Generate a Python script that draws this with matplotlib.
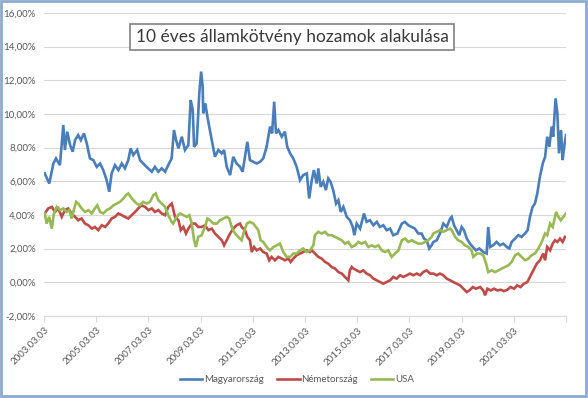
import matplotlib
matplotlib.use("Agg")
import matplotlib.pyplot as plt
from matplotlib.patches import Rectangle

plt.rcParams['font.family'] = ['Lato', 'DejaVu Sans']

# --- data (decimal year, yield in %) ---
hu_dates = [2003.20, 2003.37, 2003.53, 2003.63, 2003.78, 2003.91, 2003.97, 2004.06, 2004.17, 2004.27,
            2004.36, 2004.48, 2004.58, 2004.70, 2004.81, 2004.93, 2005.06, 2005.19, 2005.32, 2005.44,
            2005.57, 2005.67, 2005.76, 2005.89, 2006.02, 2006.15, 2006.27, 2006.40, 2006.49, 2006.59,
            2006.74, 2006.85, 2006.97, 2007.10, 2007.30, 2007.42, 2007.55, 2007.68, 2007.81, 2007.93,
            2008.06, 2008.15, 2008.23, 2008.32, 2008.45, 2008.57, 2008.70, 2008.79, 2008.87, 2008.92,
            2009.02, 2009.12, 2009.19, 2009.25, 2009.27, 2009.35, 2009.43, 2009.50, 2009.60, 2009.72,
            2009.85, 2009.98, 2010.07, 2010.17, 2010.30, 2010.42, 2010.55, 2010.68, 2010.78, 2010.87,
            2010.96, 2011.06, 2011.19, 2011.32, 2011.45, 2011.57, 2011.70, 2011.83, 2011.91, 2011.99,
            2012.06, 2012.15, 2012.28, 2012.40, 2012.49, 2012.60, 2012.72, 2012.85, 2012.98, 2013.10,
            2013.24, 2013.33, 2013.43, 2013.51, 2013.62, 2013.68, 2013.77, 2013.87, 2013.97, 2014.06,
            2014.15, 2014.25, 2014.36, 2014.45, 2014.54, 2014.64, 2014.77, 2014.89, 2015.00, 2015.06,
            2015.15, 2015.28, 2015.43, 2015.53, 2015.66, 2015.79, 2015.92, 2016.04, 2016.17, 2016.30,
            2016.43, 2016.55, 2016.71, 2016.88, 2017.00, 2017.13, 2017.26, 2017.38, 2017.51, 2017.64,
            2017.73, 2017.83, 2017.93, 2018.02, 2018.09, 2018.22, 2018.34, 2018.47, 2018.60, 2018.73,
            2018.79, 2018.88, 2018.98, 2019.08, 2019.17, 2019.26, 2019.37, 2019.49, 2019.60, 2019.72,
            2019.85, 2020.00, 2020.13, 2020.19, 2020.26, 2020.38, 2020.51, 2020.64, 2020.77, 2020.90,
            2021.00, 2021.09, 2021.22, 2021.34, 2021.47, 2021.60, 2021.70, 2021.79, 2021.89, 2021.98,
            2022.07, 2022.17, 2022.28, 2022.37, 2022.45, 2022.53, 2022.62, 2022.68, 2022.77, 2022.84,
            2022.90, 2022.98, 2023.04, 2023.10, 2023.17]
hu_yield = [6.47, 5.87, 7.06, 7.36, 6.96, 9.35, 7.86, 8.95, 8.15, 7.76,
            8.45, 8.75, 8.45, 8.85, 8.25, 7.36, 7.26, 6.86, 7.06, 6.67,
            6.07, 5.38, 6.47, 6.96, 6.67, 7.06, 6.77, 7.26, 7.96, 7.56,
            7.86, 7.26, 7.06, 6.86, 6.57, 6.86, 6.57, 6.77, 6.57, 6.96,
            7.36, 9.05, 8.45, 7.96, 8.65, 7.86, 8.15, 10.83, 10.24, 8.05,
            8.25, 11.23, 12.52, 11.63, 10.04, 10.63, 9.84, 9.25, 8.45, 7.46,
            7.86, 7.66, 7.86, 6.86, 6.37, 7.46, 7.06, 6.86, 6.57, 7.46,
            8.35, 7.26, 7.16, 7.06, 7.16, 7.36, 8.05, 9.25, 8.85, 10.73,
            8.85, 9.05, 8.65, 8.95, 8.05, 7.66, 7.36, 6.86, 6.07, 6.37,
            6.47, 4.98, 6.07, 6.67, 5.87, 6.77, 5.67, 5.97, 5.48, 6.17,
            5.97, 5.48, 4.68, 4.88, 4.18, 4.48, 3.89, 3.69, 3.29, 2.80,
            3.49, 3.19, 4.09, 3.59, 3.69, 3.39, 3.59, 3.29, 3.39, 3.10,
            3.19, 2.80, 2.90, 3.49, 3.59, 3.39, 3.29, 3.19, 2.90, 2.90,
            2.60, 2.50, 2.01, 2.20, 2.40, 2.50, 2.90, 3.49, 3.29, 3.79,
            3.89, 3.39, 3.10, 2.80, 3.29, 3.10, 2.60, 2.30, 2.10, 1.90,
            2.01, 1.80, 1.71, 3.29, 2.10, 2.20, 2.40, 2.20, 2.30, 2.10,
            2.01, 2.40, 2.60, 2.80, 2.70, 2.90, 3.10, 3.89, 4.48, 4.68,
            5.28, 6.27, 7.06, 7.46, 8.65, 8.05, 9.25, 8.65, 10.93, 10.04,
            7.66, 9.05, 7.26, 8.05, 8.75]

de_dates = [2003.20, 2003.33, 2003.47, 2003.59, 2003.72, 2003.85, 2003.97, 2004.10, 2004.23, 2004.36,
            2004.48, 2004.61, 2004.74, 2004.87, 2005.00, 2005.12, 2005.25, 2005.38, 2005.51, 2005.63,
            2005.76, 2005.89, 2006.02, 2006.15, 2006.27, 2006.40, 2006.53, 2006.66, 2006.78, 2006.91,
            2007.04, 2007.17, 2007.30, 2007.42, 2007.55, 2007.68, 2007.81, 2007.93, 2008.06, 2008.10,
            2008.19, 2008.32, 2008.41, 2008.51, 2008.61, 2008.70, 2008.83, 2008.96, 2009.08, 2009.21,
            2009.34, 2009.47, 2009.60, 2009.72, 2009.85, 2009.98, 2010.07, 2010.17, 2010.30, 2010.42,
            2010.55, 2010.68, 2010.74, 2010.87, 2010.96, 2011.06, 2011.13, 2011.22, 2011.32, 2011.45,
            2011.57, 2011.70, 2011.80, 2011.89, 2012.02, 2012.15, 2012.28, 2012.40, 2012.53, 2012.62,
            2012.72, 2012.85, 2012.98, 2013.10, 2013.24, 2013.36, 2013.43, 2013.55, 2013.68, 2013.81,
            2013.94, 2014.06, 2014.19, 2014.32, 2014.45, 2014.58, 2014.70, 2014.83, 2014.89, 2014.96,
            2015.02, 2015.15, 2015.28, 2015.40, 2015.53, 2015.66, 2015.79, 2015.92, 2016.04, 2016.17,
            2016.30, 2016.43, 2016.55, 2016.68, 2016.81, 2016.94, 2017.07, 2017.19, 2017.32, 2017.45,
            2017.58, 2017.70, 2017.83, 2017.96, 2018.09, 2018.22, 2018.34, 2018.47, 2018.60, 2018.73,
            2018.85, 2018.98, 2019.11, 2019.24, 2019.37, 2019.47, 2019.60, 2019.72, 2019.88, 2020.00,
            2020.07, 2020.16, 2020.29, 2020.41, 2020.54, 2020.67, 2020.79, 2020.92, 2021.05, 2021.18,
            2021.30, 2021.43, 2021.56, 2021.69, 2021.79, 2021.92, 2022.05, 2022.17, 2022.30, 2022.37,
            2022.45, 2022.56, 2022.66, 2022.75, 2022.84, 2022.94, 2023.04, 2023.13]
de_yield = [4.09, 4.39, 4.48, 4.18, 4.39, 3.89, 4.29, 4.39, 4.09, 3.89,
            3.69, 3.79, 3.49, 3.39, 3.19, 3.29, 3.10, 3.39, 3.29, 3.49,
            3.79, 3.89, 4.09, 3.99, 3.89, 3.79, 3.99, 4.18, 4.39, 4.58,
            4.48, 4.29, 4.39, 4.18, 4.29, 4.09, 3.99, 4.48, 4.68, 4.48,
            3.89, 3.69, 3.10, 3.29, 2.90, 3.19, 3.49, 3.49, 3.29, 3.29,
            3.39, 3.10, 3.19, 2.90, 2.70, 2.50, 2.20, 2.50, 2.90, 3.19,
            3.39, 3.49, 3.29, 3.10, 2.70, 2.50, 1.80, 2.10, 1.90, 2.01,
            1.80, 1.71, 1.31, 1.51, 1.31, 1.51, 1.41, 1.31, 1.41, 1.21,
            1.41, 1.61, 1.71, 1.80, 1.90, 1.80, 1.90, 1.71, 1.51, 1.41,
            1.21, 1.11, 0.91, 0.82, 0.61, 0.52, 0.32, 0.12, 0.71, 0.91,
            0.82, 0.71, 0.61, 0.71, 0.52, 0.42, 0.22, 0.12, 0.02, -0.08,
            0.02, 0.12, 0.32, 0.22, 0.42, 0.32, 0.42, 0.52, 0.42, 0.52,
            0.42, 0.61, 0.71, 0.52, 0.52, 0.42, 0.52, 0.42, 0.22, 0.12,
            0.02, -0.08, -0.18, -0.38, -0.58, -0.48, -0.28, -0.38, -0.28, -0.48,
            -0.77, -0.38, -0.48, -0.38, -0.48, -0.44, -0.52, -0.44, -0.28, -0.38,
            -0.18, -0.28, -0.08, 0.02, 0.32, 0.71, 1.11, 1.31, 1.71, 1.31,
            2.10, 1.90, 2.30, 2.50, 2.40, 2.60, 2.40, 2.70]

us_dates = [2003.20, 2003.27, 2003.37, 2003.47, 2003.55, 2003.66, 2003.78, 2003.91, 2004.04, 2004.14,
            2004.23, 2004.29, 2004.40, 2004.48, 2004.61, 2004.74, 2004.87, 2005.00, 2005.12, 2005.21,
            2005.32, 2005.44, 2005.57, 2005.70, 2005.83, 2005.96, 2006.08, 2006.21, 2006.31, 2006.40,
            2006.49, 2006.59, 2006.72, 2006.85, 2006.97, 2007.10, 2007.23, 2007.36, 2007.45, 2007.55,
            2007.68, 2007.81, 2007.93, 2008.06, 2008.12, 2008.25, 2008.38, 2008.51, 2008.64, 2008.74,
            2008.83, 2008.92, 2008.99, 2009.08, 2009.21, 2009.34, 2009.43, 2009.53, 2009.66, 2009.79,
            2009.91, 2010.04, 2010.17, 2010.27, 2010.36, 2010.49, 2010.61, 2010.74, 2010.83, 2010.94,
            2011.06, 2011.19, 2011.29, 2011.38, 2011.47, 2011.57, 2011.70, 2011.83, 2011.96, 2012.09,
            2012.21, 2012.34, 2012.47, 2012.60, 2012.72, 2012.85, 2012.98, 2013.10, 2013.24, 2013.36,
            2013.49, 2013.55, 2013.68, 2013.81, 2013.94, 2014.06, 2014.19, 2014.32, 2014.45, 2014.58,
            2014.70, 2014.83, 2014.96, 2015.09, 2015.21, 2015.34, 2015.47, 2015.60, 2015.73, 2015.85,
            2015.98, 2016.11, 2016.24, 2016.36, 2016.49, 2016.62, 2016.75, 2016.88, 2017.00, 2017.13,
            2017.26, 2017.38, 2017.51, 2017.64, 2017.77, 2017.89, 2018.02, 2018.09, 2018.22, 2018.34,
            2018.47, 2018.60, 2018.73, 2018.79, 2018.92, 2019.04, 2019.17, 2019.30, 2019.43, 2019.55,
            2019.62, 2019.75, 2019.88, 2020.00, 2020.11, 2020.19, 2020.32, 2020.45, 2020.58, 2020.71,
            2020.83, 2020.96, 2021.09, 2021.22, 2021.34, 2021.47, 2021.60, 2021.73, 2021.85, 2021.98,
            2022.11, 2022.24, 2022.37, 2022.45, 2022.56, 2022.66, 2022.79, 2022.88, 2022.97, 2023.07,
            2023.17]
us_yield = [4.09, 3.49, 3.89, 3.19, 4.09, 4.48, 4.29, 4.39, 4.18, 4.29,
            3.79, 4.18, 4.78, 4.68, 4.39, 4.18, 4.29, 4.09, 4.39, 4.58,
            4.18, 4.09, 4.29, 4.39, 4.58, 4.68, 4.78, 4.98, 5.18, 5.28,
            5.08, 4.88, 4.68, 4.58, 4.78, 4.68, 4.78, 5.18, 5.28, 4.88,
            4.68, 4.48, 3.99, 3.59, 3.49, 3.89, 4.09, 3.99, 3.89, 3.99,
            3.49, 2.50, 2.10, 2.70, 2.80, 3.29, 3.79, 3.69, 3.49, 3.49,
            3.69, 3.79, 3.89, 3.79, 3.29, 2.90, 2.70, 2.50, 3.00, 3.49,
            3.59, 3.49, 3.29, 3.10, 2.50, 2.40, 2.10, 1.90, 2.10, 2.20,
            2.30, 1.80, 1.51, 1.51, 1.71, 1.71, 1.90, 2.01, 1.80, 1.90,
            2.20, 2.80, 3.00, 2.90, 3.00, 2.80, 2.80, 2.70, 2.60, 2.50,
            2.30, 2.40, 2.10, 2.20, 2.40, 2.30, 2.40, 2.10, 2.20, 2.10,
            2.20, 1.90, 1.80, 1.90, 1.51, 1.71, 1.90, 2.50, 2.60, 2.40,
            2.50, 2.40, 2.30, 2.30, 2.40, 2.50, 2.70, 2.90, 3.00, 3.10,
            3.00, 3.10, 3.19, 3.10, 2.70, 2.50, 2.40, 2.20, 2.10, 1.90,
            1.51, 1.71, 1.71, 1.61, 1.11, 0.61, 0.71, 0.61, 0.71, 0.82,
            0.91, 1.01, 1.21, 1.61, 1.71, 1.51, 1.31, 1.41, 1.61, 1.71,
            2.01, 2.40, 2.90, 2.80, 3.49, 3.29, 4.18, 3.89, 3.69, 3.89,
            4.09]

series_names = ['Magyarország', 'Németország', 'USA']
series_colors = ['#4A7EBB', '#BE4B48', '#98B954']

tick_years = list(range(2003, 2024, 2))
y_ticks = list(range(-2, 17, 2))

fig = plt.figure(figsize=(5.88, 3.98), dpi=100)
ax = fig.add_axes([44 / 588, 1 - 316 / 398, 522 / 588, 303 / 398])

for dates, vals, name, col in zip([hu_dates, de_dates, us_dates],
                                  [hu_yield, de_yield, us_yield],
                                  series_names, series_colors):
    ax.plot(dates, vals, color=col, lw=1.9, label=name, solid_joinstyle='miter')

ax.set_xlim(2003.17, 2023.17)
ax.set_ylim(-2, 16)
ax.set_yticks(y_ticks)
ax.set_yticklabels([f"{v:.2f}".replace('.', ',') + '%' for v in y_ticks])
ax.set_xticks([y + 0.17 for y in tick_years])
ax.set_xticklabels([f"{y}.03.03" if y < 2023 else '' for y in tick_years],
                   rotation=45, ha='right', rotation_mode='anchor')

ax.grid(axis='y', color='#D9D9D9', lw=0.8)
ax.set_axisbelow(True)
for s in ['left', 'right', 'top']:
    ax.spines[s].set_visible(False)
ax.spines['bottom'].set_color('#D9D9D9')
ax.spines['bottom'].set_linewidth(0.8)
ax.tick_params(axis='y', length=0, pad=6, labelsize=7, labelcolor='#595959')
ax.tick_params(axis='x', length=4, width=0.8, color='#D9D9D9', pad=3,
               labelsize=7, labelcolor='#595959')

ax.text(0.475, 0.92, '10 éves államkötvény hozamok alakulása', transform=ax.transAxes,
        ha='center', va='center', fontsize=12.5, color='#3A3A3A',
        bbox=dict(boxstyle='square,pad=0.3', fc='white', ec='#808080', lw=1.2))

leg = fig.legend(loc='center', bbox_to_anchor=(0.505, 1 - 380 / 398), ncol=3, frameon=False,
                 fontsize=7, handlelength=2.3, columnspacing=1.4, handletextpad=0.15)
for t in leg.get_texts():
    t.set_color('#595959')

fig.patches.append(Rectangle((0.002, 0.004), 0.994, 0.993, transform=fig.transFigure,
                             fill=False, ec='#8EAAD0', lw=2.0))

fig.savefig('out.png', dpi=100)
